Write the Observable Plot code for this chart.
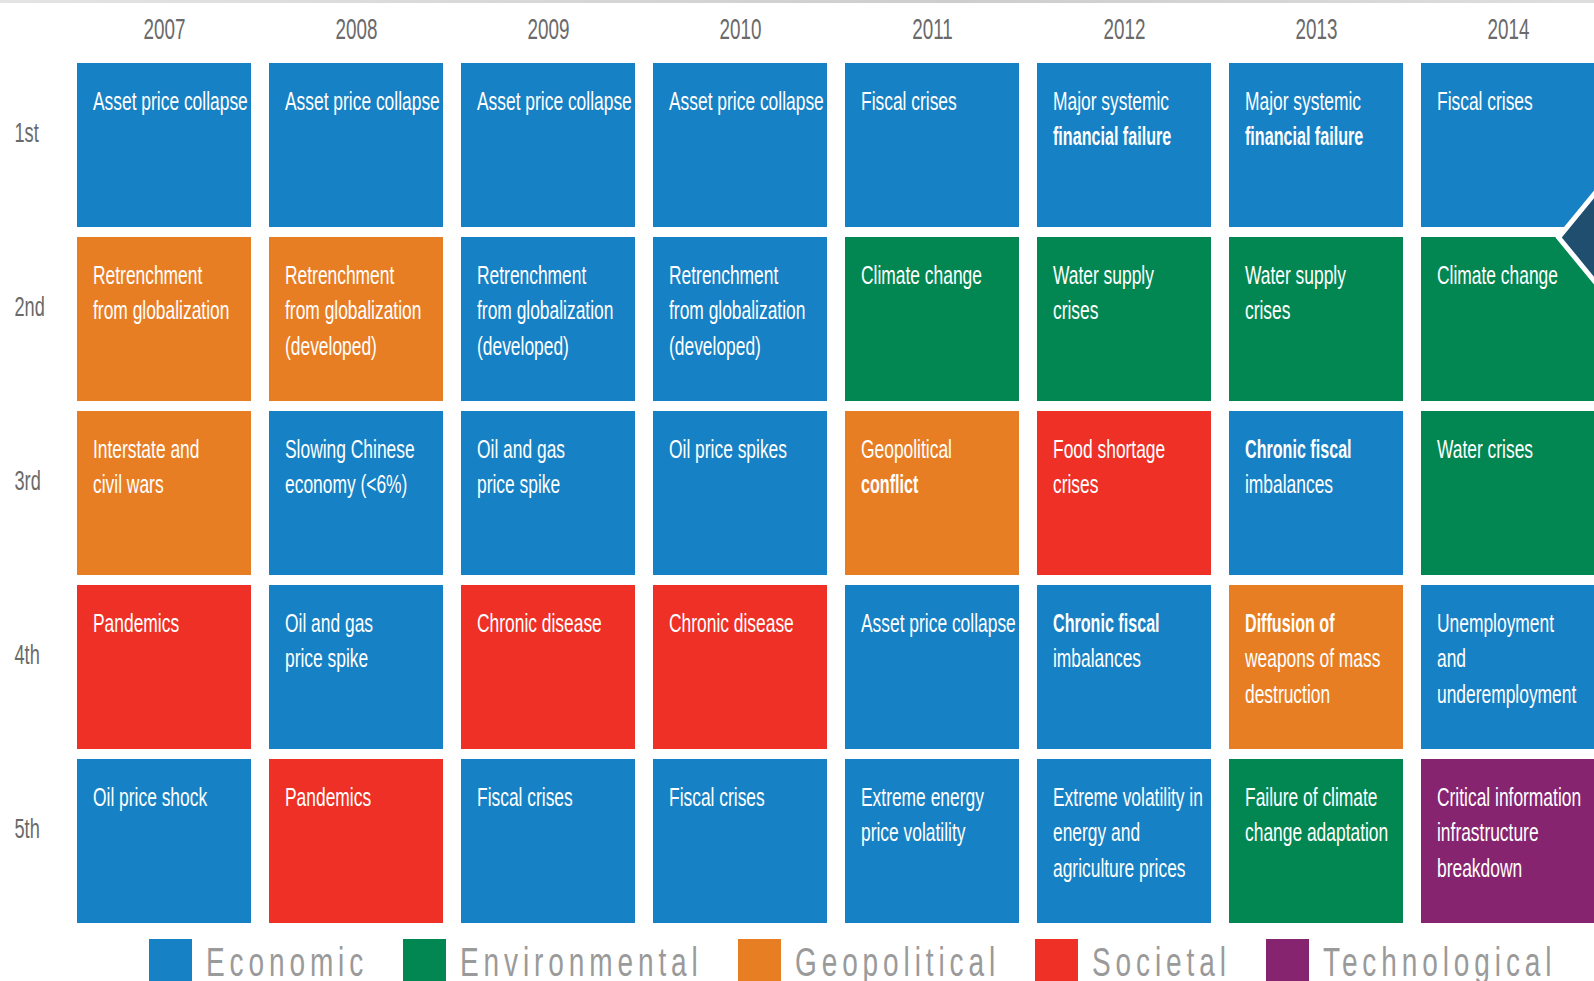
<!DOCTYPE html>
<html>
<head>
<meta charset="utf-8">
<script src="https://cdn.jsdelivr.net/npm/d3@7"></script>
<script src="https://cdn.jsdelivr.net/npm/@observablehq/plot@0.6"></script>
<style>
html, body { margin: 0; padding: 0; background: #fff; overflow: hidden; width: 1594px; height: 981px; }
#topline { position: absolute; left: 0; top: 0; width: 1594px; height: 3px; background: linear-gradient(to right, #e4e4e4, #cdcdcd 60%, #dedede); z-index: 2; }
#chart svg { display: block; max-width: none; }
#legend { display: flex; align-items: flex-start; margin-left: 149px; margin-top: 4px; }
.item { display: flex; align-items: flex-start; margin-right: 35px; }
.sw { width: 43px; height: 43px; margin-right: 14px; flex: none; }
.wrap { flex: none; }
.lab { display: inline-block; font-family: "Liberation Sans", sans-serif; font-size: 40px; line-height: 46px; color: #9a9a9a; letter-spacing: 7px; white-space: nowrap; transform: scaleX(0.70); transform-origin: 0 0; }
</style>
</head>
<body>
<div id="topline"></div>
<div id="chart"></div>
<div id="legend"></div>
<script>
// ---- data ----
const years = ["2007", "2008", "2009", "2010", "2011", "2012", "2013", "2014"];
const ranks = ["1st", "2nd", "3rd", "4th", "5th"];
const categories = ["Economic", "Environmental", "Geopolitical", "Societal", "Technological"];
const categoryColors = ["#1681c4", "#028752", "#e87e24", "#ee3026", "#86246f"];

// "|" = line break, "*" = bold line
const risks2007 = ["Asset price collapse", "Retrenchment|from globalization", "Interstate and|civil wars", "Pandemics", "Oil price shock"];
const types2007 = ["Economic", "Geopolitical", "Geopolitical", "Societal", "Economic"];
const risks2008 = ["Asset price collapse", "Retrenchment|from globalization|(developed)", "Slowing Chinese|economy (<6%)", "Oil and gas|price spike", "Pandemics"];
const types2008 = ["Economic", "Geopolitical", "Economic", "Economic", "Societal"];
const risks2009 = ["Asset price collapse", "Retrenchment|from globalization|(developed)", "Oil and gas|price spike", "Chronic disease", "Fiscal crises"];
const types2009 = ["Economic", "Economic", "Economic", "Societal", "Economic"];
const risks2010 = ["Asset price collapse", "Retrenchment|from globalization|(developed)", "Oil price spikes", "Chronic disease", "Fiscal crises"];
const types2010 = ["Economic", "Economic", "Economic", "Societal", "Economic"];
const risks2011 = ["Fiscal crises", "Climate change", "Geopolitical|*conflict", "Asset price collapse", "Extreme energy|price volatility"];
const types2011 = ["Economic", "Environmental", "Geopolitical", "Economic", "Economic"];
const risks2012 = ["Major systemic|*financial failure", "Water supply|crises", "Food shortage|crises", "*Chronic fiscal|imbalances", "Extreme volatility in|energy and|agriculture prices"];
const types2012 = ["Economic", "Environmental", "Societal", "Economic", "Economic"];
const risks2013 = ["Major systemic|*financial failure", "Water supply|crises", "*Chronic fiscal|imbalances", "*Diffusion of|weapons of mass|destruction", "Failure of climate|change adaptation"];
const types2013 = ["Economic", "Environmental", "Economic", "Geopolitical", "Environmental"];
const risks2014 = ["Fiscal crises", "Climate change", "Water crises", "Unemployment|and|underemployment", "Critical information|infrastructure|breakdown"];
const types2014 = ["Economic", "Environmental", "Environmental", "Economic", "Technological"];

const chevronAt = [{year: "2014", rank: "1st"}];

// ---- build table ----
const riskNames = [risks2007, risks2008, risks2009, risks2010, risks2011, risks2012, risks2013, risks2014];
const riskTypes = [types2007, types2008, types2009, types2010, types2011, types2012, types2013, types2014];
const data = [];
years.forEach((yr, i) => riskNames[i].forEach((name, j) => data.push({year: yr, rank: ranks[j], label: name, type: riskTypes[i][j]})));

const normalText = (d) => d.label.split("|").map(l => l.startsWith("*") ? "" : l).join("\n");
const boldText = (d) => d.label.split("|").map(l => l.startsWith("*") ? l.slice(1) : "").join("\n");
const hasBold = (d) => d.label.split("|").some(l => l.startsWith("*"));

const diamond = {
  draw(context, size) {
    const r = Math.sqrt(size / Math.PI), w = r * 0.82;
    context.moveTo(0, -r); context.lineTo(w, 0); context.lineTo(0, r); context.lineTo(-w, 0); context.closePath();
  }
};

const cellText = {x: "year", y: "rank", fill: "white", fontSize: 26, textAnchor: "start", lineAnchor: "top", lineHeight: 1.37, dx: -71.5, dy: -61};

const chart = Plot.plot({
  width: 1594,
  height: 935,
  marginLeft: 68, marginTop: 58, marginRight: 0, marginBottom: 7,
  x: {type: "band", domain: years, range: [68, 1604], padding: 0, axis: null},
  y: {type: "band", domain: ranks, range: [58, 928], padding: 0, axis: null},
  color: {type: "ordinal", domain: categories, range: categoryColors},
  style: {fontFamily: "Liberation Sans, sans-serif", background: "#fff", overflow: "hidden"},
  marks: [
    Plot.cell(data, {x: "year", y: "rank", fill: "type", insetLeft: 9, insetRight: 9, insetTop: 5, insetBottom: 5}),
    Plot.text(data, {...cellText, text: normalText}),
    Plot.text(data.filter(hasBold), {...cellText, text: boldText, fontWeight: "bold"}),
    Plot.text(years, {x: d => d, text: d => d, frameAnchor: "top", dy: -20, lineAnchor: "bottom", fontSize: 29, fill: "#6a6a6a"}),
    Plot.text(ranks, {y: d => d, text: d => d, frameAnchor: "left", dx: -54, dy: -4, textAnchor: "start", lineAnchor: "bottom", fontSize: 28, fill: "#6a6a6a"}),
    Plot.dot(chevronAt, {x: "year", y: "rank", dx: 110, dy: 92, r: 73, symbol: diamond, fill: "#1f4e6e", stroke: "white", strokeWidth: 5})
  ]
});
document.getElementById("chart").appendChild(chart);

// condense text horizontally (text mark groups in mark order)
const textGroups = chart.querySelectorAll('g[aria-label="text"]');
const squeezeFactors = [0.67, 0.62, 0.65, 0.65];
textGroups.forEach((g, k) => {
  const s = squeezeFactors[k] ?? 0.67;
  g.querySelectorAll("text").forEach(t => {
    t.setAttribute("transform", (t.getAttribute("transform") || "") + ` scale(${s},1)`);
  });
});

// legend
const legend = document.getElementById("legend");
categories.forEach((c, i) => {
  const item = document.createElement("div"); item.className = "item";
  const sw = document.createElement("div"); sw.className = "sw"; sw.style.background = categoryColors[i];
  const wrap = document.createElement("div"); wrap.className = "wrap";
  const lab = document.createElement("span"); lab.className = "lab"; lab.textContent = c;
  wrap.appendChild(lab); item.appendChild(sw); item.appendChild(wrap); legend.appendChild(item);
});
legend.querySelectorAll(".wrap").forEach(w => {
  const lab = w.firstChild;
  w.style.width = lab.getBoundingClientRect().width + "px";
});
</script>
</body>
</html>
